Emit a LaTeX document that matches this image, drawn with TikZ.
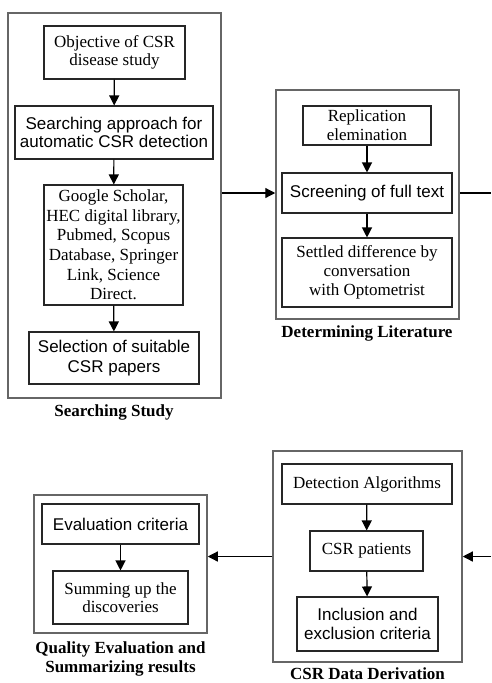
\documentclass[tikz,border=0pt]{standalone}
\usepackage{fontspec}
\setmainfont{Liberation Serif}
\newfontfamily\arialf{Liberation Sans}
\usetikzlibrary{arrows.meta}
\newcommand{\fsz}[2]{\fontsize{#1}{#2}\selectfont}
\begin{document}
\begin{tikzpicture}[x=1pt,y=-1pt,
  box/.style={draw=black!85, line width=1.1pt, align=center, inner sep=0pt,
    font=\fsz{17}{18.7}},
  sbox/.style={box, font=\arialf\fsz{17}{18.5}},
  outer/.style={draw=black!60, line width=1.5pt, inner sep=0pt},
  lbl/.style={font=\bfseries\fsz{17}{19}, align=center},
  arr/.style={-{Triangle[length=10pt,width=10pt]}, line width=1.2pt}]
\useasboundingbox (0,0) rectangle (491,683);

% Searching Study
\node[outer, minimum width=213, minimum height=385] (A) at (114.5,205.5) {};
\node[box, minimum width=141, minimum height=53, font=\fsz{17}{17.7}] (obj) at (114.5,52.5) {Objective of CSR\\disease study};
\node[sbox, minimum width=198, minimum height=53, font=\arialf\fsz{17}{18.3}] (srch) at (114,132.5) {Searching approach for\\automatic CSR detection};
\node[box, minimum width=139, minimum height=120, font=\fsz{17}{19.6}] (goog) at (113.5,245) {Google Scholar,\\HEC digital library,\\Pubmed, Scopus\\Database, Springer\\Link, Science\\Direct.};
\node[sbox, minimum width=170, minimum height=52, font=\arialf\fsz{17}{19.3}] (sel) at (114,358) {Selection of suitable\\CSR papers};
\node[lbl] (la) at (114,412) {Searching Study};
\draw[arr] (obj) -- (srch);
\draw[arr] (srch) -- (goog);
\draw[arr] (goog) -- (sel);

% Determining Literature
\node[outer, minimum width=183, minimum height=229] (B) at (367.5,204.5) {};
\node[box, minimum width=128, minimum height=39] (rep) at (367,125.5) {Replication\\elemination};
\node[sbox, minimum width=170, minimum height=40] (scr) at (367,193) {Screening of full text};
\node[box, minimum width=170, minimum height=69] (set) at (367,272.5) {Settled difference by\\conversation\\with Optometrist};
\node[lbl] (lb) at (367,333) {Determining Literature};
\draw[arr] (rep) -- (scr);
\draw[arr] (scr) -- (set);

% CSR Data Derivation
\node[outer, minimum width=189, minimum height=211] (C) at (367.5,556.5) {};
\node[box, minimum width=170, minimum height=40] (det) at (367,484) {Detection Algorithms};
\node[box, minimum width=113, minimum height=40] (pat) at (366.5,551) {CSR patients};
\node[sbox, minimum width=141, minimum height=54, font=\arialf\fsz{17}{18.3}] (inc) at (367.5,624) {Inclusion and\\exclusion criteria};
\node[lbl, anchor=base, inner sep=0pt, text depth=0pt] (lc) at (367.5,679) {CSR Data Derivation};
\draw[arr] (det) -- (pat);
\draw[arr] (pat) -- (inc);

% Quality Evaluation
\node[outer, minimum width=173, minimum height=138] (D) at (120.5,564) {};
\node[sbox, minimum width=157, minimum height=40] (evl) at (120.5,524) {Evaluation criteria};
\node[box, minimum width=135, minimum height=53, font=\fsz{17}{18}] (sum) at (120.5,597.5) {Summing up the\\discoveries};
\node[lbl] (ld) at (120.5,658.5) {Quality Evaluation and\\Summarizing results};
\draw[arr] (evl) -- (sum);

% connectors between stages
\coordinate (rB) at (491,193);
\coordinate (rC) at (491,556.5);
\draw[arr] (A.east |- scr.west) -- (B.west |- scr.west);
\draw[line width=1.2pt] (B.east |- scr.east) -- (rB);
\draw[arr] (rC) -- (C.east);
\draw[arr] (C.west) -- (D.east |- C.west);
\end{tikzpicture}
\end{document}
